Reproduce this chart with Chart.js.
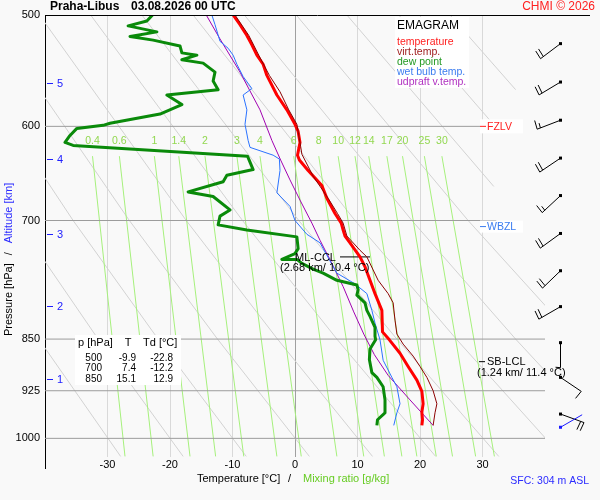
<!DOCTYPE html>
<html>
<head>
<meta charset="utf-8">
<script src="https://cdn.jsdelivr.net/npm/chart.js@4.4.1/dist/chart.umd.min.js"></script>
<style>
  html, body { margin: 0; padding: 0; background: #f9f9f9; }
  #wrap { width: 600px; height: 500px; }
</style>
</head>
<body>
<div id="wrap"><canvas id="emagram" width="600" height="500"></canvas></div>
<script>
// ---- sounding, Praha-Libus 03.08.2026 00 UTC ----
const tempP = [500,508,517,525,534,542,552,570,584,598,605,616,629,634,645,661,675,692,703,711,718,726,743,755,772,789,811,840,851,870,889,909,926,945,958,970,979];
const tempT = [-9.9,-8.8,-7.7,-6.9,-6.1,-5.1,-4.5,-2.9,-1.3,0,0.5,0.8,0.4,0.7,2.1,4.3,5.1,6.4,7.4,7.7,8.0,8.8,10.4,11.2,12.0,12.8,13.9,14.0,15.1,16.8,18.1,19.5,20.3,20.5,20.3,20.4,20.3];

const virtP = [500,517,534,552,567,584,598,620,628,651,675,692,703,718,735,743,759,772,789,801,824,843,857,874,889,905,925,945,959,979];
const virtT = [-9.6,-7.4,-5.8,-4.1,-2.4,-1.0,0.3,0.9,1.1,2.9,5.3,6.8,7.7,8.3,10.4,11.5,12.5,13.3,14.9,15.7,16.0,16.3,17.3,18.9,20.0,21.1,22.1,22.7,22.4,22.1];

const dewP = [500,505,509,514,518,521,526,532,534,538,541,549,557,565,570,579,588,597,599,602,609,616,619,630,644,650,657,668,673,688,695,705,711,719,733,739,746,746,751,758,763,772,778,784,791,801,811,819,834,846,851,864,879,898,905,919,939,959,970,979];
const dewT = [-22.8,-23.7,-26.7,-22.1,-26.4,-22.7,-18.4,-18.1,-15.7,-18.1,-14.7,-12.8,-13.1,-12.3,-20.5,-18.1,-21.6,-29.6,-30.7,-34.9,-36.0,-36.8,-35.5,-7.6,-6.7,-10.9,-11.5,-17.1,-13.1,-10.4,-12.0,-12.3,-7.7,0.3,0.5,0,-2.1,0.3,1.1,2.9,4.5,6.7,9.9,10.1,9.9,11.2,11.5,12.0,12.8,12.8,12.9,12.0,11.9,12.3,13.1,14.1,14.4,14.4,13.2,13.1];

const wetP = [500,508,522,528,534,542,553,564,570,584,598,614,621,629,633,645,669,684,700,716,726,741,763,776,789,811,828,851,880,905,919,945,959,979];
const wetT = [-13.3,-12.8,-12.0,-10.7,-9.9,-9.3,-8.3,-6.9,-8.3,-7.7,-8.0,-7.5,-7.2,-3.5,-2.5,-2.4,-2.9,-0.8,0.0,1.9,4.0,5.1,6.7,9.5,11.5,12.3,12.8,13.6,14.1,15.5,16.3,16.8,16.3,15.8];

const updP = [500,520,549,584,614,634,655,677,703,723,751,780,813,843,872,902,939,979];
const updT = [-14.2,-12.0,-8.8,-5.6,-3.7,-2.3,-0.8,0.8,2.7,4.0,5.9,7.7,9.4,11.0,12.7,14.9,18.4,22.1];

// ---- diagram background ----
const xTicks = [-40,-30,-20,-10,0,10,20,30,40];
const yTicks = [500,600,700,850,925,1000];
const isobarP = [600,700,850,925,1000];
const isobarEndT = [29.6,32.2,40,40,40];

const mixW = ['0.4','0.6','1','1.4','2','3','4','6','8','10','12','14','17','20','25','30'];
const mixTopT = [-32.4,-28.1,-22.5,-18.6,-14.4,-9.3,-5.6,-0.2,3.8,6.9,9.6,11.8,14.7,17.2,20.7,23.5];
const mixBotT = [-27.2,-22.7,-16.8,-12.7,-8.2,-2.9,1.0,6.7,11.0,14.3,17.1,19.5,22.6,25.2,28.9,31.9];

// dry adiabats: T at 500 / 700 / 850 / 1030 hPa, the hot ones stop early
const adiabatT500  = [-73.7,-65.5,-57.3,-49.1,-40.9,-32.7,-24.5,-16.3,-8.1,0.2,8.3,16.6,24.8];
const adiabatT700  = [-53.6,-44.5,-35.5,-26.5,-17.4,-8.4,0.6,9.6,18.7,27.7,null,null,null];
const adiabatT850  = [-41.0,-31.5,-21.9,-12.4,-2.8,6.7,16.3,25.8,35.3,44.9,null,null,null];
const adiabatT1030 = [-27.9,-17.9,-7.8,2.3,12.4,22.5,32.6,42.7,52.7,62.8,null,null,null];
const adiabatEndP  = [null,null,null,null,null,null,null,null,null,null,662,597,565];
const adiabatEndT  = [null,null,null,null,null,null,null,null,null,null,31.8,31.6,35.3];

const altKm = [1,2,3,4,5];
const altP = [907,805,716,633,559];

const barbP = [524,558,594,632,672,715,760,806,855,905,961];
const barbDir = [233,239,249,236,227,234,226,240,180,124,110];
const barbKt = [20,20,15,20,15,20,20,20,5,10,20];
const sfcWind = { p: 982, dir: 60, kt: 0 };

const tableP = [500,700,850];
const tableT = [-9.9,7.4,15.1];
const tableTd = [-22.8,-12.2,12.9];

const fzlvP = 600, wbzlP = 707, sbLclP = 882, cclP = 743;
const cclLineT = [7.2,12.0];

const pts = (P, T) => P.map((p, i) => ({ x: T[i], y: p }));

function lineSet(data, color, width, order) {
  return { data, borderColor: color, borderWidth: width, showLine: true, pointRadius: 0,
           fill: false, tension: 0, order, borderJoinStyle: 'round' };
}

const datasets = [
  lineSet(pts(dewP, dewT), '#0a8a0a', 3, 1),
  lineSet(pts(virtP, virtT), '#8b0000', 1, 2),
  lineSet(pts(tempP, tempT), '#ff0000', 3, 3),
  lineSet(pts(wetP, wetT), '#2a72ff', 1, 4),
  lineSet(pts(updP, updT), '#a000b0', 1, 5),
  lineSet([{ x: cclLineT[0], y: cclP }, { x: cclLineT[1], y: cclP }], '#000000', 1, 6)
];

isobarP.forEach((p, i) => {
  datasets.push(lineSet([{ x: -40, y: p }, { x: isobarEndT[i], y: p }], '#9c9c9c', 1, 18));
});
mixW.forEach((w, i) => {
  datasets.push(lineSet([{ x: mixTopT[i], y: 630 }, { x: mixBotT[i], y: 1030 }], '#a6f07c', 1, 19));
});
adiabatT500.forEach((t, i) => {
  const d = [{ x: t, y: 500 }];
  if (adiabatT700[i] !== null) d.push({ x: adiabatT700[i], y: 700 });
  if (adiabatT850[i] !== null) d.push({ x: adiabatT850[i], y: 850 });
  if (adiabatT1030[i] !== null) d.push({ x: adiabatT1030[i], y: 1030 });
  if (adiabatEndP[i] !== null) d.push({ x: adiabatEndT[i], y: adiabatEndP[i] });
  datasets.push(lineSet(d, '#d2d2d2', 1, 20));
});

const FONT = '"Liberation Sans", Arial, sans-serif';
Chart.defaults.font.family = FONT;
Chart.defaults.font.size = 11;
Chart.defaults.color = '#000';

function drawBarb(ctx, x, y, dir, kt, color) {
  const L = 25, r = dir * Math.PI / 180;
  const ux = Math.sin(r), uy = -Math.cos(r);
  const ex = x + ux * L, ey = y + uy * L;
  ctx.strokeStyle = color; ctx.fillStyle = color; ctx.lineWidth = 1;
  ctx.beginPath(); ctx.moveTo(x, y); ctx.lineTo(ex, ey); ctx.stroke();
  ctx.fillRect(x - 1.5, y - 1.5, 3, 3);
  const a = Math.atan2(uy, ux) + 95 * Math.PI / 180;
  const bx = Math.cos(a), by = Math.sin(a);
  let rest = kt, pos = 0;
  ctx.beginPath();
  while (rest >= 10) {
    const sx = ex - ux * pos, sy = ey - uy * pos;
    ctx.moveTo(sx, sy); ctx.lineTo(sx + bx * 9, sy + by * 9);
    pos += 3.5; rest -= 10;
  }
  if (rest >= 5) {
    const sx = ex - ux * pos, sy = ey - uy * pos;
    ctx.moveTo(sx, sy); ctx.lineTo(sx + bx * 5, sy + by * 5);
  }
  ctx.stroke();
}

function text(ctx, s, x, y, color, font, align) {
  ctx.fillStyle = color;
  ctx.font = font;
  ctx.textAlign = align || 'left';
  ctx.textBaseline = 'middle';
  ctx.fillText(s, x, y);
}

const decor = {
  id: 'decor',
  afterDraw(chart) {
    const { ctx, scales: { x, y } } = chart;
    ctx.save();

    // frame: top line and left axis stub
    ctx.strokeStyle = '#000'; ctx.lineWidth = 1;
    ctx.beginPath();
    ctx.moveTo(45, 15.5); ctx.lineTo(590, 15.5);
    ctx.moveTo(45.5, 456); ctx.lineTo(45.5, 469);
    ctx.stroke();

    // titles
    text(ctx, 'Praha-Libus', 50, 7, '#000', 'bold 12px ' + FONT);
    text(ctx, '03.08.2026 00 UTC', 131, 7, '#000', 'bold 12px ' + FONT);
    text(ctx, 'CHMI \u00a9 2026', 595, 7, '#ff2020', '12px ' + FONT, 'right');

    // axis titles
    ctx.font = '11px ' + FONT;
    text(ctx, 'Temperature [\u00b0C]', 197, 479, '#000', '11px ' + FONT);
    text(ctx, '/', 288, 479, '#000', '11px ' + FONT);
    text(ctx, 'Mixing ratio [g/kg]', 303, 479, '#66cc22', '11px ' + FONT);
    text(ctx, 'SFC: 304 m ASL', 589, 481, '#2b2bff', '10.5px ' + FONT, 'right');

    ctx.save();
    ctx.translate(9, 336);
    ctx.rotate(-Math.PI / 2);
    ctx.font = '11px ' + FONT;
    text(ctx, 'Pressure [hPa]', 0, 0, '#000', '11px ' + FONT);
    let w = ctx.measureText('Pressure [hPa]').width;
    text(ctx, '/', w + 8, 0, '#000', '11px ' + FONT);
    text(ctx, 'Altitude [km]', w + 20, 0, '#2b2bff', '11px ' + FONT);
    ctx.restore();

    // altitude ticks
    altKm.forEach((k, i) => {
      const py = Math.round(y.getPixelForValue(altP[i])) + 0.5;
      ctx.strokeStyle = '#2020ff';
      ctx.beginPath(); ctx.moveTo(47, py); ctx.lineTo(53, py); ctx.stroke();
      text(ctx, String(k), 57, py, '#2020ff', '11px ' + FONT);
    });

    // mixing ratio labels
    mixW.forEach((wv, i) => {
      text(ctx, wv, x.getPixelForValue(mixTopT[i]), y.getPixelForValue(615), '#92d850', '10.5px ' + FONT, 'center');
    });

    // legend box
    ctx.fillStyle = '#ffffff';
    ctx.fillRect(395, 17, 74, 71);
    text(ctx, 'EMAGRAM', 397, 26, '#000', '12px ' + FONT);
    const legNames = ['temperature', 'virt.temp.', 'dew point', 'wet bulb temp.', 'udpraft v.temp.'];
    const legCols = ['#ff2020', '#a02020', '#229922', '#3a7cf0', '#b030c0'];
    legNames.forEach((n, i) => text(ctx, n, 397, 42 + 10 * i, legCols[i], '10.5px ' + FONT));

    // level markers
    const fy = y.getPixelForValue(fzlvP);
    ctx.fillStyle = '#ffffff'; ctx.fillRect(480, fy - 7, 43, 14);
    ctx.strokeStyle = '#ff2020';
    ctx.beginPath(); ctx.moveTo(480, fy); ctx.lineTo(486, fy); ctx.stroke();
    text(ctx, 'FZLV', 487, fy + 1, '#ff2020', '10.5px ' + FONT);

    const wy = y.getPixelForValue(wbzlP);
    ctx.fillStyle = '#ffffff'; ctx.fillRect(480, wy - 6, 43, 12);
    ctx.strokeStyle = '#3a7cf0';
    ctx.beginPath(); ctx.moveTo(480, wy); ctx.lineTo(486, wy); ctx.stroke();
    text(ctx, 'WBZL', 487, wy + 1, '#3a7cf0', '10.5px ' + FONT);

    const sy = y.getPixelForValue(sbLclP);
    ctx.strokeStyle = '#000';
    ctx.beginPath(); ctx.moveTo(479, sy); ctx.lineTo(485, sy); ctx.stroke();
    text(ctx, 'SB-LCL', 487, sy, '#000', '11px ' + FONT);
    text(ctx, '(1.24 km/ 11.4 \u00b0C)', 477, sy + 11, '#000', '11px ' + FONT);

    const cy = y.getPixelForValue(cclP);
    const cx = x.getPixelForValue(cclLineT[0]);
    text(ctx, 'ML-CCL', cx - 45, cy + 1, '#000', '11px ' + FONT);
    text(ctx, '(2.68 km/ 10.4 \u00b0C)', cx - 60, cy + 11, '#000', '11px ' + FONT);

    // table
    ctx.fillStyle = '#ffffff';
    ctx.fillRect(75, 335, 106, 50);
    text(ctx, 'p [hPa]', 78, 343, '#000', '11px ' + FONT);
    text(ctx, 'T', 128, 343, '#000', '11px ' + FONT, 'center');
    text(ctx, 'Td [\u00b0C]', 143, 343, '#000', '11px ' + FONT);
    tableP.forEach((p, i) => {
      const ry = 358 + 10.5 * i;
      text(ctx, String(p), 102, ry, '#000', '10px ' + FONT, 'right');
      text(ctx, tableT[i].toFixed(1), 136, ry, '#000', '10px ' + FONT, 'right');
      text(ctx, tableTd[i].toFixed(1), 173, ry, '#000', '10px ' + FONT, 'right');
    });

    // wind barbs
    barbP.forEach((p, i) => drawBarb(ctx, 560.5, y.getPixelForValue(p), barbDir[i], barbKt[i], '#000'));
    drawBarb(ctx, 560.5, y.getPixelForValue(sfcWind.p), sfcWind.dir, sfcWind.kt, '#1a1aff');

    ctx.restore();
  }
};

new Chart(document.getElementById('emagram'), {
  type: 'scatter',
  data: { datasets },
  options: {
    responsive: false,
    animation: false,
    layout: { padding: { top: 15, right: 55, left: 0, bottom: 0 } },
    plugins: { legend: { display: false }, tooltip: { enabled: false } },
    scales: {
      x: {
        type: 'linear',
        min: -40, max: 40,
        afterFit: (s) => { s.height = 43; },
        afterBuildTicks: (s) => { s.ticks = xTicks.map(v => ({ value: v })); },
        ticks: {
          padding: 1,
          font: { size: 11 },
          color: '#000',
          callback: (v) => (Math.abs(v) === 40 ? '' : String(v))
        },
        grid: {
          drawTicks: false,
          color: (c) => {
            const v = c.tick ? c.tick.value : null;
            if (v === 0) return '#a0a0a0';
            if (v === -40 || v === 40) return 'rgba(0,0,0,0)';
            return '#d9d9d9';
          }
        },
        border: { display: false }
      },
      y: {
        type: 'logarithmic',
        reverse: true,
        min: 500, max: 1031,
        afterFit: (s) => { s.width = 45; },
        afterBuildTicks: (s) => { s.ticks = yTicks.map(v => ({ value: v })); },
        ticks: {
          padding: 5,
          font: { size: 11 },
          color: '#000',
          callback: (v) => String(v)
        },
        grid: { drawTicks: false, color: 'rgba(0,0,0,0)' },
        border: { display: true, color: '#000', width: 1 }
      }
    }
  },
  plugins: [decor]
});
</script>
</body>
</html>
